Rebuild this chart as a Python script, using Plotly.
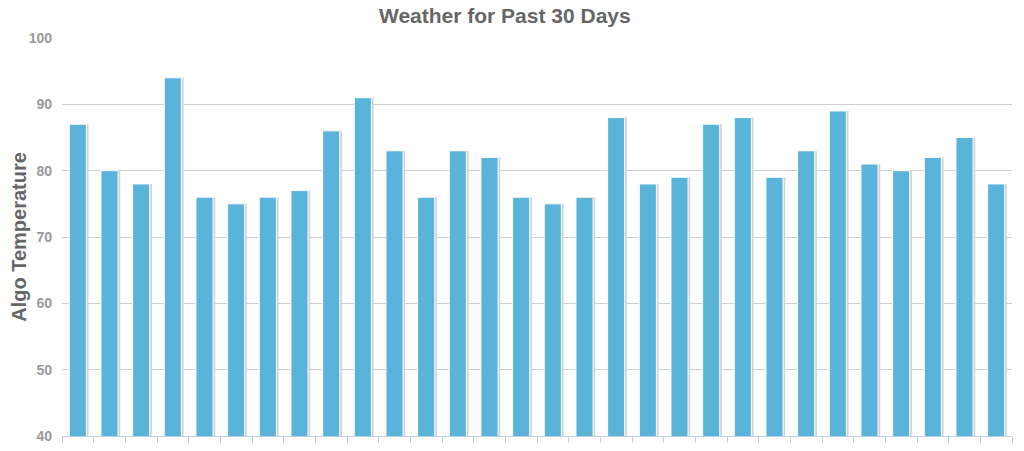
import plotly.graph_objects as go

# Last 30 days (labels hidden on the chart)
days = [f"Day {i}" for i in range(1, 31)]
temps = [87, 80, 78, 94, 76, 75, 76, 77, 86, 91,
         83, 76, 83, 82, 76, 75, 76, 88, 78, 79,
         87, 88, 79, 83, 89, 81, 80, 82, 85, 78]

bar_w = 0.54

fig = go.Figure()

# soft shadow behind each bar, nudged right
fig.add_trace(go.Bar(
    x=days, y=temps, width=bar_w, offset=-bar_w / 2 + 0.07,
    marker=dict(color="#d2d2d2", line=dict(width=0)),
    hoverinfo="skip", showlegend=False,
))
fig.add_trace(go.Bar(
    x=days, y=temps, width=bar_w, offset=-bar_w / 2,
    marker=dict(color="#5ab4d9", line=dict(color="#ffffff", width=1)),
    name="Temperature", showlegend=False,
))

# page body adds an 8px margin, so the figure is a bit smaller than the window
fig.update_layout(
    width=1016, height=443,
    barmode="overlay",
    paper_bgcolor="white", plot_bgcolor="white",
    margin=dict(l=54, r=12, t=30, b=15),
    font=dict(family="Liberation Sans, Arial, sans-serif", color="#999999"),
    title=dict(text="<b>Weather for Past 30 Days</b>", x=0.489, xanchor="center",
               y=1.0, yanchor="top", pad=dict(t=0), automargin=False,
               font=dict(size=21, color="#666666")),
    xaxis=dict(
        showticklabels=False, showgrid=False, automargin=False,
        ticks="outside", tickson="boundaries", ticklen=6,
        tickcolor="#c0d0e0", showline=True, linecolor="#c0d0e0", linewidth=1,
        range=[-0.5, 29.5],
    ),
    yaxis=dict(
        range=[40, 100], dtick=10, showgrid=True, gridcolor="#cfcfcf",
        gridwidth=1, zeroline=False, ticks="", ticklabelstandoff=9,
        automargin=False,
        tickfont=dict(size=14, color="#999999", weight="bold"),
        title=dict(text="<b>Algo Temperature</b>", standoff=8,
                   font=dict(size=20, color="#666666")),
    ),
)

fig.write_html("out.html")
